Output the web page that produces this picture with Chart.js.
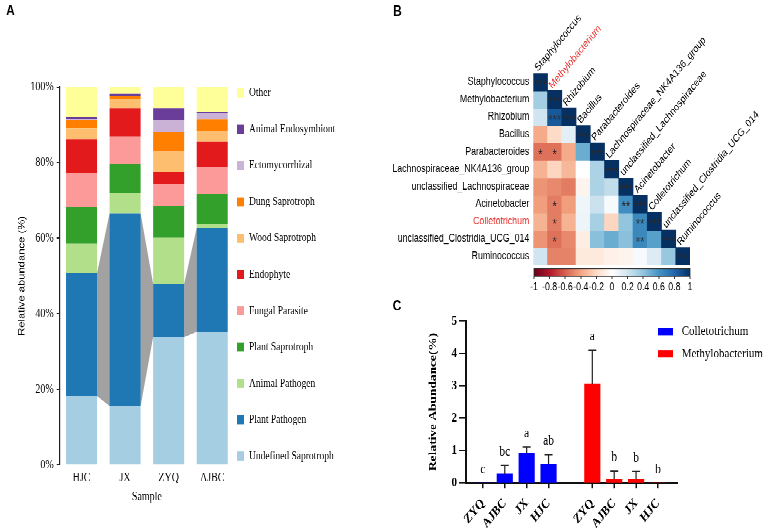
<!DOCTYPE html>
<html lang="en">
<head>
<meta charset="utf-8">
<title>Fungal guilds, correlation and relative abundance</title>
<script src="https://cdn.jsdelivr.net/npm/chart.js"></script>
<style>
  html, body { margin: 0; padding: 0; background: #fff; }
  #fig { position: absolute; left: 0; top: 0; width: 767px; transform-origin: 0 0; }
  #fig canvas { position: absolute; }
</style>
</head>
<body>
<div id="fig">
  <canvas id="chartA"></canvas>
  <canvas id="chartB"></canvas>
  <canvas id="chartScale"></canvas>
  <canvas id="chartC"></canvas>
</div>
<script>
// =======================
// DATA A (% per sample)
// =======================
const samples = ['HJC', 'JX', 'ZYQ', 'AJBC'];
const undefinedSaprotroph = [18.3, 15.6, 33.9, 35.2];
const plantPathogen = [32.4, 51.0, 14.0, 27.6];
const animalPathogen = [7.8, 5.4, 12.2, 1.0];
const plantSaprotroph = [9.8, 7.6, 8.4, 7.9];
const fungalParasite = [8.9, 7.3, 5.8, 7.2];
const endophyte = [9.0, 7.5, 3.2, 6.7];
const woodSaprotroph = [2.9, 2.3, 5.4, 2.8];
const dungSaprotroph = [2.3, 0.8, 5.1, 3.1];
const ectomycorrhizal = [0.1, 0.1, 3.3, 1.5];
const animalEndosymbiont = [0.6, 0.6, 3.1, 0.4];
const other = [7.9, 1.8, 5.6, 6.6];

// =======================
// DATA B (correlations, lower triangle)
// =======================
const corrLabels = ['Staphylococcus', 'Methylobacterium', 'Rhizobium', 'Bacillus', 'Parabacteroides',
  'Lachnospiraceae_NK4A136_group', 'unclassified_Lachnospiraceae', 'Acinetobacter', 'Colletotrichum',
  'unclassified_Clostridia_UCG_014', 'Ruminococcus'];
const corrValues = [
  [1],
  [0.35, 1],
  [0.2, 0.85, 1],
  [-0.38, -0.2, 0.12, 1],
  [-0.55, -0.55, -0.38, 0.5, 1],
  [-0.35, -0.22, -0.33, 0.0, 0.32, 1],
  [-0.45, -0.48, -0.52, -0.06, 0.32, 0.25, 1],
  [-0.42, -0.52, -0.42, 0.07, 0.22, 0.04, 0.62, 1],
  [-0.35, -0.52, -0.35, 0.08, 0.33, -0.22, 0.4, 0.65, 1],
  [-0.45, -0.55, -0.48, -0.1, 0.42, 0.5, 0.42, 0.65, 0.55, 1],
  [0.2, -0.5, -0.5, -0.12, -0.12, -0.08, -0.06, 0.04, 0.15, 0.38, 1]
];
const corrStars = [
  ['***'],
  ['', '***'],
  ['', '***', '***'],
  ['', '', '', '***'],
  ['*', '*', '', '', '***'],
  ['', '', '', '', '', '***'],
  ['', '', '', '', '', '', '***'],
  ['', '*', '', '', '', '', '**', '***'],
  ['', '*', '', '', '', '', '', '**', '***'],
  ['', '*', '', '', '', '', '', '**', '', '***'],
  ['', '', '', '', '', '', '', '', '', '', '***']
];
const colorbarTicks = [-1, -0.8, -0.6, -0.4, -0.2, 0, 0.2, 0.4, 0.6, 0.8, 1];

// =======================
// DATA C (relative abundance %)
// =======================
const sites = ['ZYQ', 'AJBC', 'JX', 'HJC'];
const colletoMean = [0, 0.27, 0.92, 0.57];
const colletoErr = [0, 0.27, 0.19, 0.30];
const colletoLetters = ['c', 'bc', 'a', 'ab'];
const methyloMean = [3.05, 0.10, 0.10, 0];
const methyloErr = [1.05, 0.26, 0.25, 0];
const methyloLetters = ['a', 'b', 'b', 'b'];

// =======================
// LAYOUT HELPERS
// =======================
// the figure is a bit taller than wide, draw flat and stretch the whole thing
const S = 1.22;
const Y = v => v / S;
document.getElementById('fig').style.transform = `scaleY(${S})`;

function place(id, left, top, w, h) {
  const c = document.getElementById(id);
  c.width = w; c.height = h;
  c.style.left = left + 'px';
  c.style.top = top + 'px';
  return c;
}

const RED = '#e8302a';
const INK = '#000';
const serif = 'Liberation Serif';
const sans = 'Liberation Sans';

function panelLetter(letter, x, y) {
  return {
    id: 'panel' + letter,
    afterDraw(chart) {
      const ctx = chart.ctx;
      ctx.save();
      ctx.font = `bold 12px "${sans}"`;
      ctx.fillStyle = '#000';
      ctx.textAlign = 'center';
      ctx.textBaseline = 'middle';
      ctx.fillText(letter, x, y);
      ctx.restore();
    }
  };
}

// =======================
// PANEL A
// =======================
const guildSeries = [
  ['Undefined Saprotroph', undefinedSaprotroph, '#a6cee3'],
  ['Plant Pathogen', plantPathogen, '#1f78b4'],
  ['Animal Pathogen', animalPathogen, '#b2df8a'],
  ['Plant Saprotroph', plantSaprotroph, '#33a02c'],
  ['Fungal Parasite', fungalParasite, '#fb9a99'],
  ['Endophyte', endophyte, '#e31a1c'],
  ['Wood Saprotroph', woodSaprotroph, '#fdbf6f'],
  ['Dung Saprotroph', dungSaprotroph, '#ff7f00'],
  ['Ectomycorrhizal', ectomycorrhizal, '#cab2d6'],
  ['Animal Endosymbiont', animalEndosymbiont, '#6a3d9a'],
  ['Other', other, '#ffff99']
];

// grey bands joining the Plant Pathogen blocks
const bandPlugin = {
  id: 'bands',
  beforeDatasetsDraw(chart) {
    const meta = chart.getDatasetMeta(1);
    const ctx = chart.ctx;
    ctx.save();
    ctx.fillStyle = '#a2a2a2';
    for (let i = 0; i < meta.data.length - 1; i++) {
      const a = meta.data[i], b = meta.data[i + 1];
      const ar = a.x + a.width / 2, bl = b.x - b.width / 2;
      ctx.beginPath();
      ctx.moveTo(ar, a.y);
      ctx.lineTo(bl, b.y);
      ctx.lineTo(bl, b.base);
      ctx.lineTo(ar, a.base);
      ctx.closePath();
      ctx.fill();
    }
    ctx.restore();
  }
};

const legendA = {
  id: 'legendA',
  afterDraw(chart) {
    const ctx = chart.ctx;
    const ds = chart.data.datasets;
    ctx.save();
    ctx.font = `9.5px "${serif}"`;
    ctx.textBaseline = 'middle';
    for (let k = 0; k < ds.length; k++) {
      const d = ds[ds.length - 1 - k];
      const y = Y(93) + k * Y(36.3);
      ctx.fillStyle = d.backgroundColor;
      ctx.fillRect(237, y - Y(4.5), 7, Y(9));
      ctx.fillStyle = INK;
      ctx.fillText(d.label, 249, y);
    }
    ctx.restore();
  }
};

const HA = 433;
new Chart(place('chartA', 0, 0, 380, HA), {
  type: 'bar',
  data: {
    labels: samples,
    datasets: guildSeries.map(([label, values, color]) => ({
      label, data: values, backgroundColor: color, borderWidth: 0,
      barPercentage: 0.712, categoryPercentage: 1
    }))
  },
  options: {
    responsive: false, animation: false, devicePixelRatio: 2,
    layout: { padding: { top: Y(87), right: 146, bottom: 0, left: 0 } },
    plugins: { legend: { display: false }, tooltip: { enabled: false } },
    scales: {
      x: {
        stacked: true,
        grid: { display: false, drawTicks: false },
        border: { display: false },
        ticks: { font: { family: serif, size: 10 }, color: INK, padding: 4.9, maxRotation: 0 },
        title: { display: true, text: 'Sample', font: { family: serif, size: 10 }, color: INK, padding: { top: 0, bottom: 19.7 } },
        afterFit: s => { s.height = HA - Y(465); }
      },
      y: {
        stacked: true, min: 0, max: 100,
        ticks: { stepSize: 20, callback: v => v + '%', font: { family: serif, size: 10 }, color: INK, padding: 3 },
        grid: { drawOnChartArea: false, tickLength: 3, color: '#222' },
        border: { color: '#222', width: 1.2 },
        title: { display: true, text: 'Relative abundance (%)', font: { family: sans, size: 9.2 }, color: INK, padding: { top: 16.5, bottom: 0 } },
        afterFit: s => { s.width = 59.75; }
      }
    }
  },
  plugins: [bandPlugin, legendA, panelLetter('A', 10.5, Y(11.5))]
});

// =======================
// PANEL B (heatmap from floating bars)
// =======================
const rdbuStops = ['#67001f', '#b2182b', '#d6604d', '#f4a582', '#fddbc7', '#ffffff',
  '#d1e5f0', '#92c5de', '#4393c3', '#2166ac', '#053061'];

function hexRgb(h) {
  return [parseInt(h.slice(1, 3), 16), parseInt(h.slice(3, 5), 16), parseInt(h.slice(5, 7), 16)];
}
function rdbu(v) {
  const t = (Math.max(-1, Math.min(1, v)) + 1) / 2 * (rdbuStops.length - 1);
  const i = Math.min(Math.floor(t), rdbuStops.length - 2);
  const f = t - i;
  const a = hexRgb(rdbuStops[i]), b = hexRgb(rdbuStops[i + 1]);
  const c = a.map((x, k) => Math.round(x + (b[k] - x) * f));
  return `rgb(${c[0]},${c[1]},${c[2]})`;
}

const highlightColumn = 'Methylobacterium';
const highlightRow = 'Colletotrichum';

const heatText = {
  id: 'heatText',
  afterDatasetsDraw(chart) {
    const { ctx, scales: { x, y } } = chart;
    ctx.save();
    ctx.font = `11px "${sans}"`;
    ctx.fillStyle = '#2a2a2a';
    ctx.textAlign = 'center';
    ctx.textBaseline = 'middle';
    corrStars.forEach((row, r) => row.forEach((s, c) => {
      if (!s) return;
      const cy = (y.getPixelForValue(r) + y.getPixelForValue(r + 1)) / 2;
      ctx.fillText(s, x.getPixelForValue(c), cy + 2.5);
    }));
    // column names along the diagonal
    ctx.font = `8.8px "${sans}"`;
    ctx.textAlign = 'left';
    ctx.textBaseline = 'alphabetic';
    corrLabels.forEach((name, c) => {
      ctx.save();
      ctx.translate(x.getPixelForValue(c) - 2.4, y.getPixelForValue(c) - 1.3);
      ctx.rotate(-Math.PI / 4);
      ctx.fillStyle = name === highlightColumn ? RED : INK;
      ctx.fillText(name, 0, 0);
      ctx.restore();
    });
    ctx.restore();
  }
};

const HB = 246;
new Chart(place('chartB', 380, 0, 387, HB), {
  type: 'bar',
  data: {
    labels: corrLabels,
    datasets: corrLabels.map((name, r) => ({
      label: name,
      data: corrLabels.map((_, c) => c <= r ? [r, r + 1] : null),
      backgroundColor: corrLabels.map((_, c) => c <= r ? rdbu(corrValues[r][c]) : 'rgba(0,0,0,0)'),
      grouped: false, barPercentage: 1, categoryPercentage: 1, borderWidth: 0
    }))
  },
  options: {
    responsive: false, animation: false, devicePixelRatio: 2,
    layout: { padding: { top: Y(73.3), right: 77, bottom: HB - Y(265), left: 0 } },
    plugins: { legend: { display: false }, tooltip: { enabled: false } },
    scales: {
      x: { display: false },
      y: {
        type: 'linear', min: 0, max: 11, reverse: true,
        afterBuildTicks: s => { s.ticks = corrLabels.map((_, i) => ({ value: i + 0.5 })); },
        ticks: {
          autoSkip: false, padding: 4,
          callback: v => corrLabels[Math.floor(v)],
          color: c => corrLabels[Math.floor(c.tick.value)] === highlightRow ? RED : INK,
          font: { family: sans, size: 8.8 }
        },
        grid: { display: false, drawTicks: false },
        border: { display: false },
        afterFit: s => { s.width = 153.3; }
      }
    }
  },
  plugins: [heatText, panelLetter('B', 17.5, Y(12))]
});

// colour key under the heatmap
const gradientPlugin = {
  id: 'gradient',
  beforeDatasetsDraw(chart) {
    const { ctx, chartArea: a } = chart;
    const g = ctx.createLinearGradient(a.left, 0, a.right, 0);
    rdbuStops.forEach((c, i) => g.addColorStop(i / (rdbuStops.length - 1), c));
    ctx.save();
    ctx.fillStyle = g;
    ctx.fillRect(a.left, a.top, a.right - a.left, a.bottom - a.top);
    ctx.strokeStyle = '#333';
    ctx.lineWidth = 0.8;
    ctx.strokeRect(a.left, a.top, a.right - a.left, a.bottom - a.top);
    ctx.restore();
  }
};

const HK = 31;
new Chart(place('chartScale', 380, Y(262), 387, HK), {
  type: 'scatter',
  data: { datasets: [{ data: [] }] },
  options: {
    responsive: false, animation: false, devicePixelRatio: 2,
    layout: { padding: { top: Y(6.3), right: 77, bottom: 0, left: 154 } },
    plugins: { legend: { display: false }, tooltip: { enabled: false } },
    scales: {
      x: {
        type: 'linear', min: -1, max: 1,
        afterBuildTicks: s => { s.ticks = colorbarTicks.map(v => ({ value: v })); },
        ticks: {
          autoSkip: false, maxRotation: 0, padding: 1.7, color: INK,
          font: { family: sans, size: 8.8 },
          callback: v => String(Number(v.toFixed(1)))
        },
        grid: { drawOnChartArea: false, tickLength: 2, color: '#333' },
        border: { display: false },
        afterFit: s => { s.height = HK - Y(14); }
      },
      y: { display: false, min: 0, max: 1 }
    }
  },
  plugins: [gradientPlugin]
});

// =======================
// PANEL C
// =======================
const errorPlugin = {
  id: 'errorBars',
  afterDatasetsDraw(chart) {
    const { ctx, scales: { x, y } } = chart;
    const errs = [colletoErr, methyloErr];
    const letters = [colletoLetters, methyloLetters];
    ctx.save();
    chart.data.datasets.forEach((ds, di) => {
      ds.data.forEach((pt, i) => {
        const px = x.getPixelForValue(pt.x);
        const yBar = y.getPixelForValue(pt.y);
        const yTop = y.getPixelForValue(pt.y + errs[di][i]);
        if (errs[di][i] > 0) {
          ctx.strokeStyle = '#222';
          ctx.lineWidth = 1.2;
          ctx.beginPath();
          ctx.moveTo(px, yBar); ctx.lineTo(px, yTop);
          ctx.moveTo(px - 4, yTop); ctx.lineTo(px + 4, yTop);
          ctx.stroke();
        }
        ctx.fillStyle = INK;
        ctx.font = `11.5px "${serif}"`;
        ctx.textAlign = 'center';
        ctx.textBaseline = 'alphabetic';
        ctx.fillText(letters[di][i], px, yTop - 8);
      });
    });
    ctx.restore();
  }
};

const legendC = {
  id: 'legendC',
  afterDraw(chart) {
    const ctx = chart.ctx;
    ctx.save();
    ctx.font = `11px "${serif}"`;
    ctx.textBaseline = 'middle';
    chart.data.datasets.forEach((d, i) => {
      const y = Y(31.3) + i * Y(22.5);
      ctx.fillStyle = d.backgroundColor;
      ctx.fillRect(278, y - Y(3.7), 15, Y(7.4));
      ctx.fillStyle = INK;
      ctx.fillText(d.label, 301.7, y);
    });
    ctx.restore();
  }
};

const HC = 187;
const gap = sites.length + 1;
new Chart(place('chartC', 380, Y(300), 387, HC), {
  type: 'bar',
  data: {
    datasets: [
      {
        label: 'Colletotrichum',
        data: sites.map((s, i) => ({ x: i, y: colletoMean[i] })),
        backgroundColor: '#0000ff'
      },
      {
        label: 'Methylobacterium',
        data: sites.map((s, i) => ({ x: i + gap, y: methyloMean[i] })),
        backgroundColor: '#ff0000'
      }
    ]
  },
  options: {
    responsive: false, animation: false, devicePixelRatio: 2,
    grouped: false, barThickness: 15.5,
    layout: { padding: { top: Y(20.7), right: 90, bottom: 0, left: 0 } },
    plugins: { legend: { display: false }, tooltip: { enabled: false } },
    scales: {
      x: {
        type: 'linear', min: -0.772, max: 8.87, offset: false,
        afterBuildTicks: s => {
          s.ticks = sites.map((_, i) => ({ value: i })).concat(sites.map((_, i) => ({ value: i + gap })));
        },
        ticks: {
          autoSkip: false, minRotation: 45, maxRotation: 45, padding: 6, color: INK,
          font: { family: serif, size: 11, weight: 'bold' },
          callback: (v, i) => sites[i % sites.length]
        },
        grid: { drawOnChartArea: false, offset: false, tickLength: Y(5.3), color: '#111', lineWidth: 1.5 },
        border: { color: '#111', width: 1.6 },
        afterFit: s => { s.height = HC - Y(182.7); }
      },
      y: {
        min: 0, max: 5,
        ticks: { stepSize: 1, padding: 2, color: INK, font: { family: serif, size: 11, weight: 'bold' } },
        grid: { drawOnChartArea: false, tickLength: 7, color: '#111', lineWidth: 1.3 },
        border: { color: '#111', width: 2 },
        title: {
          display: true, text: 'Relative Abundance(%)', color: INK,
          font: { family: serif, size: 11, weight: 'bold' }, padding: { top: 46.4, bottom: 0 }
        },
        afterFit: s => { s.width = 86; }
      }
    }
  },
  plugins: [errorPlugin, legendC, panelLetter('C', 17, Y(6.5))]
});
</script>
</body>
</html>
